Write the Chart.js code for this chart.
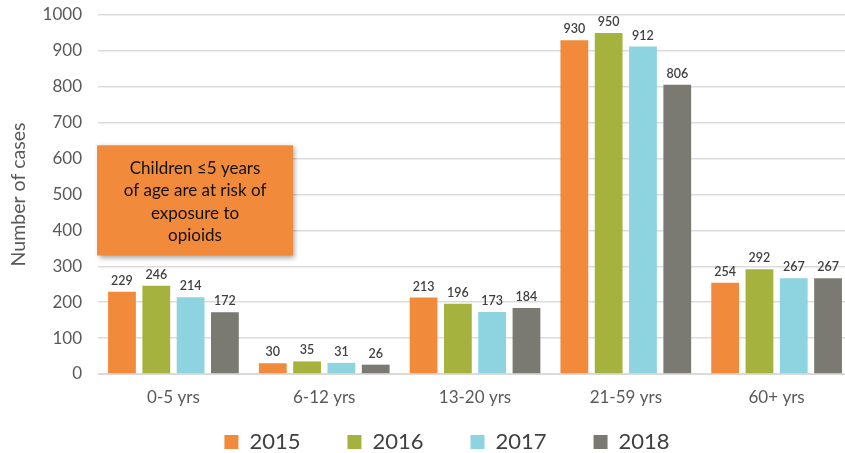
<!DOCTYPE html>
<html>
<head>
<meta charset="utf-8">
<script src="https://cdn.jsdelivr.net/npm/chart.js@4.4.0/dist/chart.umd.min.js"></script>
<style>
html,body{margin:0;padding:0;background:#fff;overflow:hidden;}
#wrap{position:relative;width:852px;height:453px;}
</style>
</head>
<body>
<div id="wrap"><canvas id="c" width="852" height="453"></canvas></div>
<script>
const categories = ['0-5 yrs', '6-12 yrs', '13-20 yrs', '21-59 yrs', '60+ yrs'];
const years = ['2015', '2016', '2017', '2018'];
const values2015 = [229, 30, 213, 930, 254];
const values2016 = [246, 35, 196, 950, 292];
const values2017 = [214, 31, 173, 912, 267];
const values2018 = [172, 26, 184, 806, 267];
const colors = ['#F28A3C', '#A6B23E', '#8DD3E0', '#7A7A72'];
const yTicks = [0, 100, 200, 300, 400, 500, 600, 700, 800, 900, 1000];
const noteLines = ['Children \u22645 years', 'of age are at risk of', 'exposure to', 'opioids'];

const series = [values2015, values2016, values2017, values2018];

const dataLabels = {
  id: 'dataLabels',
  afterDatasetsDraw(chart) {
    const ctx = chart.ctx;
    ctx.save();
    ctx.font = '600 12.5px Lato';
    ctx.fillStyle = '#404040';
    ctx.textAlign = 'center';
    ctx.textBaseline = 'middle';
    chart.data.datasets.forEach((ds, di) => {
      const meta = chart.getDatasetMeta(di);
      meta.data.forEach((bar, i) => {
        ctx.fillText(String(ds.data[i]), bar.x, bar.y - 11);
      });
    });
    ctx.restore();
  }
};

const legendShift = {
  id: 'legendShift',
  afterLayout(chart) {
    const lg = chart.legend;
    if (!lg) return;
    lg.left += 19; lg.right += 19;
    lg.top -= 28.4; lg.bottom -= 28.4;
  }
};

const noteBox = {
  id: 'noteBox',
  afterDraw(chart) {
    const ctx = chart.ctx;
    const a = chart.chartArea;
    const ys = chart.scales.y;
    const x = a.left - 1, w = 196;
    const y = ys.getPixelForValue(637), h = ys.getPixelForValue(330) - y;
    ctx.save();
    ctx.shadowColor = 'rgba(0,0,0,0.35)';
    ctx.shadowBlur = 5;
    ctx.shadowOffsetX = 2;
    ctx.shadowOffsetY = 2;
    ctx.fillStyle = '#F28A3C';
    ctx.fillRect(x, y, w, h);
    ctx.restore();
    ctx.save();
    ctx.font = '17px Lato';
    ctx.fillStyle = '#111';
    ctx.textAlign = 'center';
    ctx.textBaseline = 'middle';
    const cx = x + w / 2;
    noteLines.forEach((t, i) => ctx.fillText(t, cx, y + 23 + i * 22.5));
    ctx.restore();
  }
};

new Chart(document.getElementById('c'), {
  type: 'bar',
  data: {
    labels: categories,
    datasets: years.map((yr, i) => ({
      label: yr,
      data: series[i],
      backgroundColor: colors[i],
      borderWidth: 0,
      barPercentage: 0.81,
      categoryPercentage: 0.91
    }))
  },
  options: {
    responsive: false,
    animation: false,
    devicePixelRatio: 1,
    layout: { padding: { top: 15, right: 0, left: 4, bottom: -38.4 } },
    plugins: {
      legend: {
        position: 'bottom',
        labels: {
          boxWidth: 14,
          boxHeight: 14,
          padding: 47,
          color: '#404040',
          font: { family: 'Lato', size: 22 }
        }
      },
      tooltip: { enabled: false }
    },
    scales: {
      x: {
        grid: { display: false },
        border: { color: '#d9d9d9' },
        ticks: { color: '#595959', font: { family: 'Lato', size: 17 }, padding: 5 }
      },
      y: {
        min: 0, max: 1000,
        afterBuildTicks(axis) { axis.ticks = yTicks.map(v => ({ value: v })); },
        grid: { color: '#dcdcdc', lineWidth: 1.5, drawTicks: true, tickLength: 12, tickColor: 'rgba(0,0,0,0)' },
        border: { display: false },
        ticks: { color: '#595959', font: { family: 'Lato', size: 17 }, padding: 4, callback: v => String(v) },
        title: { display: true, text: 'Number of cases', color: '#595959', font: { family: 'Lato', size: 19.5 }, padding: { top: 3, bottom: 8.2 } }
      }
    }
  },
  plugins: [dataLabels, noteBox, legendShift]
});
</script>
</body>
</html>
